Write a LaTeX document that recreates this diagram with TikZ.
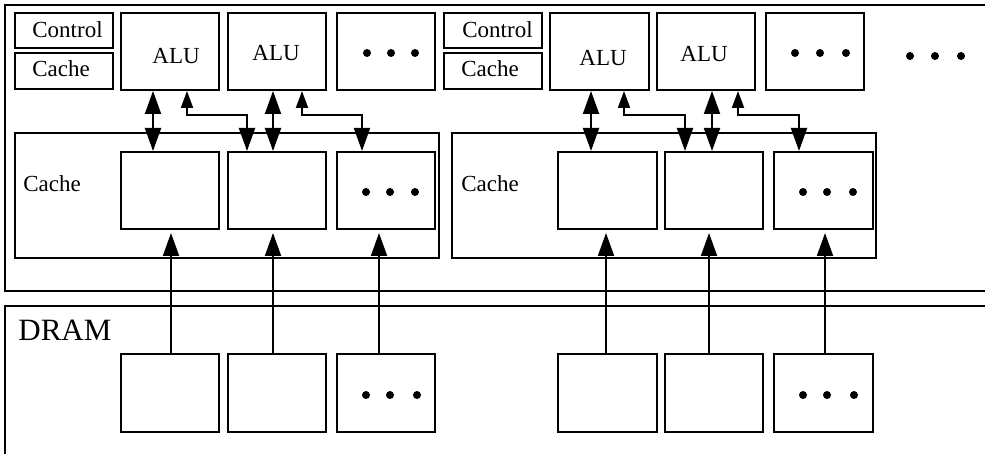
\documentclass[tikz,border=0pt]{standalone}
\usepackage{fontspec}
\setmainfont{Liberation Serif}
\usetikzlibrary{arrows.meta,fit}
\tikzset{
  box/.style={draw, line width=1pt, inner sep=0pt},
  frame/.style={draw, line width=1.1pt},
  lbl/.style={anchor=base west, inner sep=0pt, font=\fontsize{11.5pt}{13pt}\selectfont},
  biglbl/.style={anchor=base west, inner sep=0pt, font=\fontsize{15.5pt}{18pt}\selectfont},
  bigtip/.tip={Triangle[length=11.5pt,width=8pt]},
  smalltip/.tip={Triangle[length=8.5pt,width=6pt]},
  dblarrow/.style={line width=1pt, bigtip-bigtip},
  elbowarrow/.style={line width=1pt, smalltip-bigtip},
  uparrow/.style={line width=1pt, -bigtip, shorten >=1.5pt},
  dotmark/.style={fill=black},
}
\begin{document}
\begin{tikzpicture}[x=0.5pt, y=-0.5pt]
\useasboundingbox (0,0) rectangle (985,454);
% outer frames
\draw[frame] (985,5) -- (5,5) -- (5,291) -- (985,291);
\draw[frame] (985,306) -- (5,306) -- (5,454);
% left core
\node[box, fit={(15,13) (113,48)}] (ctrlL) {};
\node[box, fit={(15,53) (113,89)}] (cacheSL) {};
\node[box, fit={(121,13) (219,90)}] (aluA) {};
\node[box, fit={(228,13) (326,90)}] (aluB) {};
\node[box, fit={(337,13) (435,90)}] (aluDL) {};
% right core
\node[box, fit={(444,13) (542,48)}] (ctrlR) {};
\node[box, fit={(444,53) (542,89)}] (cacheSR) {};
\node[box, fit={(550,13) (649,90)}] (aluC) {};
\node[box, fit={(657,13) (755,90)}] (aluD) {};
\node[box, fit={(766,13) (864,90)}] (aluDR) {};
% caches
\node[box, fit={(15,133) (439,258)}] (cacheL) {};
\node[box, fit={(452,133) (876,258)}] (cacheR) {};
\node[box, fit={(121,152) (219,229)}] (cA) {};
\node[box, fit={(228,152) (326,229)}] (cB) {};
\node[box, fit={(337,152) (435,229)}] (cDL) {};
\node[box, fit={(558,152) (657,229)}] (cC) {};
\node[box, fit={(665,152) (763,229)}] (cD) {};
\node[box, fit={(774,152) (873,229)}] (cDR) {};
% dram banks
\node[box, fit={(121,354) (219,432)}] (dA) {};
\node[box, fit={(228,354) (326,432)}] (dB) {};
\node[box, fit={(337,354) (435,432)}] (dDL) {};
\node[box, fit={(558,354) (657,432)}] (dC) {};
\node[box, fit={(665,354) (763,432)}] (dD) {};
\node[box, fit={(774,354) (873,432)}] (dDR) {};
% labels
\node[lbl] (tctrlL) at (32,38) {Control};
\node[lbl] (tcacheSL) at (32,77) {Cache};
\node[lbl] (taluA) at (152,64) {ALU};
\node[lbl] (taluB) at (252,61) {ALU};
\node[lbl] (tctrlR) at (462,38) {Control};
\node[lbl] (tcacheSR) at (461,77) {Cache};
\node[lbl] (taluC) at (579,66) {ALU};
\node[lbl] (taluD) at (680,62) {ALU};
\node[lbl] (tcacheL) at (23,192) {Cache};
\node[lbl] (tcacheR) at (461,192) {Cache};
\node[biglbl] (tdram) at (18,340) {DRAM};
% dots
\foreach \x/\y in {367/53,391/53,415/53, 795/53,820/53,846/53, 910/56,935/56,961/56,
                   366/192,390/192,415/192, 803/192,827/192,853/192,
                   366/395,390/395,417/395, 803/395,827/395,854/395}
  \fill[dotmark] (\x,\y) circle[radius=4];
% ALU <-> cache connections, left
\draw[dblarrow] (aluA.south -| 153,0) -- (cA.north -| 153,0);
\draw[elbowarrow] (aluA.south -| 187,0) -- (187,115) -- (247,115) -- (cB.north -| 247,0);
\draw[dblarrow] (aluB.south -| 273,0) -- (cB.north -| 273,0);
\draw[elbowarrow] (aluB.south -| 302,0) -- (302,115) -- (362,115) -- (cDL.north -| 362,0);
% right
\draw[dblarrow] (aluC.south -| 591,0) -- (cC.north -| 591,0);
\draw[elbowarrow] (aluC.south -| 624,0) -- (624,115) -- (685,115) -- (cD.north -| 685,0);
\draw[dblarrow] (aluD.south -| 712,0) -- (cD.north -| 712,0);
\draw[elbowarrow] (aluD.south -| 738,0) -- (738,115) -- (799,115) -- (cDR.north -| 799,0);
% DRAM -> cache
\draw[uparrow] (dA.north -| 171,0) -- (cA.south -| 171,0);
\draw[uparrow] (dB.north -| 273,0) -- (cB.south -| 273,0);
\draw[uparrow] (dDL.north -| 379,0) -- (cDL.south -| 379,0);
\draw[uparrow] (dC.north -| 606,0) -- (cC.south -| 606,0);
\draw[uparrow] (dD.north -| 709,0) -- (cD.south -| 709,0);
\draw[uparrow] (dDR.north -| 825,0) -- (cDR.south -| 825,0);
\end{tikzpicture}
\end{document}
